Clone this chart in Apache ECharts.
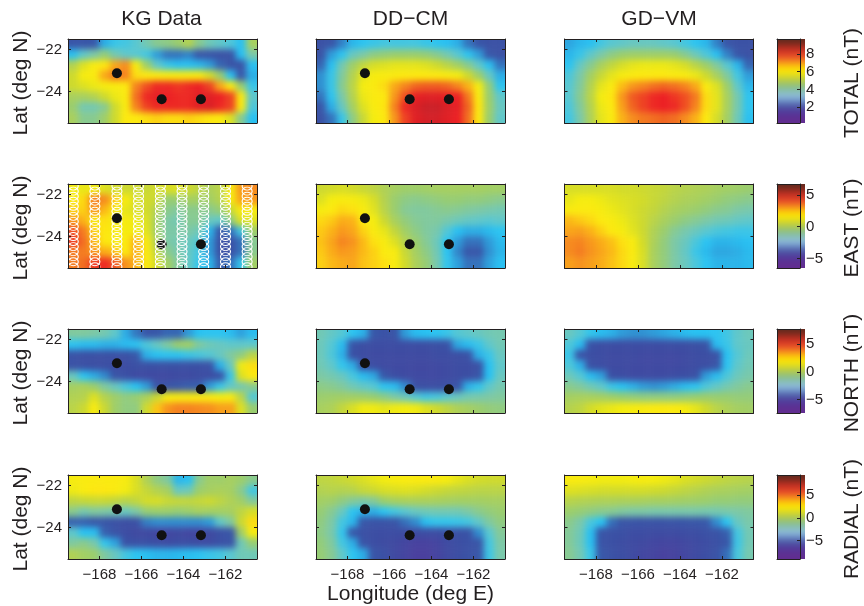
<!DOCTYPE html>
<html><head><meta charset="utf-8"><style>html,body{margin:0;background:#fff}#c{width:864px;height:606px}</style>
<script src="https://cdn.jsdelivr.net/npm/echarts@6/dist/echarts.min.js"></script></head><body><div id="c"></div>
<script>
const lonCells=["-169.25","-168.75","-168.25","-167.75","-167.25","-166.75","-166.25","-165.75","-165.25","-164.75","-164.25","-163.75","-163.25","-162.75","-162.25","-161.75","-161.25","-160.75"];
const latCells=["-21.75","-22.25","-22.75","-23.25","-23.75","-24.25","-24.75","-25.25"];
const lonTicks=[-168,-166,-164,-162];
const latTicks=[-24,-22];
const columnTitles=["KG Data","DD\u2212CM","GD\u2212VM"];
const rowNames=["TOTAL (nT)","EAST (nT)","NORTH (nT)","RADIAL (nT)"];
const barRanges=[[0.2,9.7],[-6.5,6.7],[-7.4,7.75],[-9,9.4]];
const barTicks=[[2,4,6,8],[-5,0,5],[-5,0,5],[-5,0,5]];
const siteLons=[-167.17,-165.04,-163.17];
const siteLats=[-23.13,-24.37,-24.37];
const trackLons=[-169.25,-168.22,-167.17,-166.14,-165.1,-164.07,-163.04,-162,-160.97];
const trackLats=[-21.6,-21.84,-22.08,-22.32,-22.56,-22.8,-23.04,-23.28,-23.52,-23.76,-24,-24.24,-24.48,-24.72,-24.96,-25.2,-25.44];

const totalKG=[
[2.0,2.0,2.1,2.8,3.2,3.3,3.5,3.9,4.2,4.3,4.5,5.0,4.2,3.8,3.6,3.4,3.0,4.8],
[3.0,3.6,4.0,4.4,3.9,3.6,3.5,3.3,2.6,2.3,2.3,2.4,2.0,1.9,1.8,1.9,3.0,4.0],
[5.0,5.6,6.1,6.4,7.0,7.3,6.0,4.6,3.6,3.2,3.0,3.0,2.9,2.6,2.2,1.9,1.9,3.0],
[5.4,6.0,6.2,7.0,7.5,7.4,6.5,6.3,6.2,6.1,6.1,6.1,6.1,5.5,4.5,3.0,2.0,2.8],
[5.4,5.6,5.8,6.0,6.1,6.3,7.4,7.9,8.2,8.2,8.1,8.2,8.3,8.0,7.0,6.2,4.5,3.2],
[4.8,4.8,5.0,5.4,5.8,6.2,7.6,8.2,8.4,8.3,8.2,8.2,8.5,8.5,8.3,8.0,6.2,3.6],
[4.5,3.9,3.9,4.2,5.4,6.1,7.4,8.0,8.2,8.2,8.2,8.2,8.5,8.6,8.2,8.0,6.2,3.4],
[4.8,4.2,4.2,4.6,5.4,6.3,6.3,6.5,6.6,6.5,6.5,6.6,6.5,6.4,6.2,5.6,4.2,3.0]];
const totalDD=[
[1.8,2.0,2.4,2.9,3.1,3.2,3.3,3.3,3.3,3.3,3.2,3.1,3.0,2.8,2.3,2.0,1.8,1.8],
[1.9,2.6,3.1,3.7,4.0,4.3,4.4,4.5,4.5,4.5,4.4,4.2,3.9,3.5,3.1,2.6,2.0,1.8],
[2.2,3.0,3.9,4.6,5.2,5.5,5.6,5.7,5.7,5.7,5.6,5.4,5.1,4.7,4.2,3.6,3.0,2.3],
[2.5,3.2,4.1,5.0,5.7,6.0,6.1,6.2,6.3,6.3,6.3,6.3,6.1,5.9,5.4,4.6,3.7,2.8],
[2.5,3.2,4.2,5.1,5.9,6.2,6.5,7.0,7.4,7.7,7.8,7.8,7.7,7.4,6.9,5.9,4.4,3.1],
[2.3,3.1,4.0,5.0,5.8,6.2,6.3,7.2,7.9,8.4,8.5,8.5,8.4,8.3,7.5,6.2,4.5,3.6],
[2.0,2.8,3.7,4.7,5.6,6.1,6.4,7.4,8.2,8.6,8.8,8.8,8.6,8.4,7.7,6.4,4.6,3.7],
[1.8,2.3,3.2,4.3,5.3,5.9,6.3,7.2,8.0,8.5,8.7,8.7,8.5,8.3,7.6,6.3,4.5,3.6]];
const totalGD=[
[2.7,2.9,3.0,3.3,3.5,3.6,3.7,3.7,3.7,3.6,3.5,3.3,3.1,2.9,2.4,2.0,1.8,1.8],
[2.9,3.2,3.6,4.0,4.3,4.5,4.6,4.6,4.6,4.6,4.5,4.2,3.8,3.4,3.0,2.4,2.0,1.8],
[3.1,3.7,4.2,4.8,5.2,5.5,5.7,5.8,5.8,5.8,5.7,5.5,5.1,4.6,4.1,3.5,2.9,2.2],
[3.4,4.0,4.7,5.3,5.7,6.0,6.2,6.3,6.3,6.3,6.2,6.1,5.8,5.4,4.8,4.1,3.3,2.6],
[3.5,4.1,5.0,5.7,6.2,6.8,7.2,7.4,7.6,7.7,7.6,7.4,7.0,6.2,5.6,4.6,3.6,2.9],
[3.5,4.2,5.1,5.9,6.4,7.2,7.8,8.0,8.2,8.3,8.1,7.9,7.5,6.5,5.7,4.8,3.9,3.1],
[3.4,4.1,5.0,5.8,6.3,7.1,7.7,8.0,8.2,8.3,8.2,7.9,7.4,6.5,5.7,4.8,3.9,3.1],
[3.3,4.0,4.9,5.7,6.2,6.9,7.3,7.5,7.6,7.7,7.6,7.3,6.9,6.3,5.5,4.7,3.8,3.0]];
const eastKG=[
[1.4,1.2,1.4,1.0,0.8,0.7,0.7,0.6,0.8,0.9,1.0,0.7,0.4,0.0,0.3,1.6,3.2,3.4],
[1.9,2.3,3.6,3.4,2.4,1.6,0.9,0.8,0.6,-0.6,-0.5,-0.2,-0.3,-0.3,0.2,1.6,3.0,3.2],
[2.4,2.4,3.3,2.7,1.8,1.2,0.9,0.8,0.1,-0.9,-1.1,-0.9,-0.9,-0.9,-0.6,0.6,1.8,1.6],
[3.2,2.8,1.8,2.2,1.6,1.6,1.3,1.0,-0.3,-1.2,-1.4,-1.0,-1.0,-1.6,-1.8,-0.8,1.0,1.0],
[4.2,3.6,2.4,2.1,1.7,1.6,1.4,1.1,-0.4,-1.2,-1.2,-1.2,-1.5,-2.8,-4.0,-3.6,-2.2,-0.4],
[4.4,3.8,2.7,2.1,1.7,1.9,2.8,1.8,0.0,-1.2,-1.4,-1.6,-2.0,-3.2,-4.3,-4.3,-3.6,-1.0],
[3.6,3.6,3.2,2.9,2.6,2.0,2.9,1.9,0.4,-0.9,-1.3,-1.7,-2.2,-3.2,-4.3,-4.3,-3.6,-0.9],
[3.6,3.8,4.4,4.6,4.1,3.3,2.8,1.9,0.8,-0.3,-1.1,-1.7,-2.4,-2.8,-3.8,-3.6,-2.4,-0.3]];
const eastDD=[
[0.7,0.8,0.9,0.8,0.6,0.4,0.1,-0.2,-0.4,-0.4,-0.3,-0.2,-0.2,-0.2,-0.2,-0.2,-0.3,-0.3],
[1.0,1.5,1.7,1.6,1.3,0.9,0.2,-0.5,-0.8,-0.9,-0.8,-0.7,-0.6,-0.6,-0.7,-0.7,-0.8,-0.9],
[1.6,2.0,2.3,2.2,1.7,1.1,0.3,-0.5,-1.0,-1.1,-1.1,-1.0,-0.9,-1.0,-1.1,-1.2,-1.3,-1.4],
[2.3,2.5,2.9,2.8,2.0,1.5,0.7,-0.1,-0.7,-1.0,-1.1,-1.1,-1.3,-1.5,-1.7,-1.8,-1.9,-1.8],
[2.5,2.8,3.2,3.0,2.4,1.8,1.2,0.5,-0.3,-0.8,-1.1,-1.3,-2.0,-2.6,-2.9,-2.9,-2.7,-2.5],
[2.6,3.0,3.5,3.3,2.7,2.2,1.7,1.0,0.2,-0.5,-1.0,-1.5,-2.5,-3.2,-3.6,-3.6,-3.2,-2.7],
[2.5,2.9,3.2,3.1,2.7,2.4,1.9,1.7,0.6,-0.2,-0.8,-1.4,-2.5,-3.4,-3.9,-3.9,-3.3,-2.8],
[2.4,2.7,2.9,3.0,2.6,2.4,2.2,1.7,0.8,0.0,-0.6,-1.3,-2.4,-3.1,-3.6,-3.6,-3.1,-2.6]];
const eastGD=[
[0.9,0.9,0.9,0.9,0.9,0.8,0.8,0.7,0.6,0.5,0.3,0.2,0.1,0.0,-0.2,-0.3,-0.4,-0.5],
[1.2,1.5,1.5,1.3,1.1,1.0,0.9,0.8,0.6,0.4,0.2,0.0,-0.1,-0.3,-0.5,-0.7,-0.8,-0.9],
[1.8,1.9,1.9,1.6,1.3,1.1,0.9,0.7,0.5,0.2,-0.1,-0.3,-0.5,-0.7,-0.9,-1.0,-1.2,-1.3],
[2.7,2.5,2.3,2.0,1.7,1.3,1.0,0.7,0.3,-0.1,-0.5,-0.8,-1.0,-1.2,-1.4,-1.5,-1.7,-1.8],
[3.0,3.1,2.8,2.4,2.0,1.6,1.1,0.7,0.1,-0.5,-1.0,-1.3,-1.6,-1.9,-2.1,-2.2,-2.3,-2.3],
[3.4,3.5,3.2,2.9,2.6,2.2,1.7,0.8,0.0,-0.7,-1.2,-1.6,-2.1,-2.5,-2.8,-2.8,-2.7,-2.6],
[3.4,3.6,3.3,3.0,2.7,2.3,1.8,0.9,-0.1,-0.7,-1.2,-1.7,-2.3,-2.7,-3.0,-3.0,-2.9,-2.7],
[3.1,3.3,3.1,2.9,2.6,2.3,1.7,0.9,-0.1,-0.7,-1.2,-1.6,-2.1,-2.5,-2.8,-2.8,-2.8,-2.7]];
const northKG=[
[-1.2,-1.2,-1.3,-1.5,-2.0,-3.3,-4.0,-4.5,-4.4,-4.2,-4.2,-3.6,-2.9,-2.8,-2.8,-3.0,-3.5,-3.0],
[-2.8,-3.0,-3.0,-3.2,-3.2,-3.0,-2.8,-2.3,-1.8,-1.2,-0.5,-0.3,-1.2,-1.6,-1.8,-2.0,-2.0,-2.0],
[-4.8,-5.0,-5.0,-5.0,-5.0,-5.0,-4.4,-3.2,-2.9,-2.8,-2.8,-2.6,-2.4,-2.2,-1.8,-1.2,-0.8,0.4],
[-4.8,-5.0,-5.1,-5.1,-5.2,-5.2,-5.0,-5.0,-5.0,-5.0,-5.0,-5.0,-5.0,-4.8,-3.2,-1.8,1.6,2.6],
[-1.8,-2.8,-3.3,-3.8,-4.6,-5.0,-5.3,-5.4,-5.4,-5.4,-5.3,-5.3,-5.2,-5.2,-4.8,-2.6,1.2,2.4],
[-0.2,0.0,-0.5,-1.2,-1.8,-2.4,-2.9,-3.6,-4.7,-4.6,-4.4,-4.3,-4.3,-3.6,-2.6,-1.9,-1.5,-1.0],
[0.2,0.3,1.2,0.3,-0.4,-0.8,-0.6,0.0,0.8,1.8,2.0,2.0,2.1,2.1,1.8,2.0,0.4,-2.2],
[0.4,0.8,2.0,0.8,-0.4,-0.8,-0.8,0.9,3.0,3.8,4.1,4.1,4.0,3.9,3.6,3.6,1.2,-0.6]];
const northDD=[
[-1.6,-1.9,-2.2,-2.8,-3.2,-4.4,-4.8,-4.6,-3.6,-3.0,-2.9,-2.8,-2.6,-2.2,-2.0,-1.8,-1.6,-1.5],
[-1.7,-2.2,-3.0,-4.6,-5.1,-5.2,-5.2,-5.2,-5.2,-5.2,-5.1,-5.0,-4.8,-3.4,-3.0,-2.6,-2.0,-1.6],
[-1.7,-2.3,-3.2,-5.0,-5.2,-5.3,-5.3,-5.3,-5.3,-5.3,-5.3,-5.2,-5.2,-5.1,-4.8,-3.2,-2.6,-1.8],
[-1.6,-2.0,-2.7,-3.3,-5.0,-5.2,-5.3,-5.4,-5.4,-5.5,-5.5,-5.4,-5.3,-5.2,-5.2,-4.9,-2.9,-2.0],
[-1.3,-1.5,-1.8,-2.4,-3.0,-3.4,-4.4,-5.1,-5.3,-5.4,-5.4,-5.4,-5.3,-5.2,-5.1,-4.6,-2.9,-1.8],
[-0.9,-1.0,-1.2,-1.6,-1.9,-2.2,-2.8,-3.0,-3.8,-5.0,-5.1,-5.1,-5.0,-4.6,-3.2,-2.7,-2.0,-1.5],
[-0.5,-0.4,-0.3,-0.3,-0.4,-0.6,-0.9,-1.3,-1.7,-2.2,-2.5,-2.4,-2.1,-1.8,-1.5,-1.4,-1.3,-1.2],
[-0.1,0.1,0.6,1.1,1.6,1.6,1.4,1.6,1.7,1.6,1.2,0.9,0.5,0.1,-0.2,-0.5,-0.7,-0.8]];
const northGD=[
[-1.8,-2.2,-2.7,-3.0,-3.2,-3.6,-3.7,-3.7,-3.6,-3.4,-3.2,-3.0,-2.9,-2.9,-2.8,-2.5,-2.0,-1.7],
[-2.3,-3.0,-4.8,-5.1,-5.2,-5.2,-5.2,-5.2,-5.2,-5.2,-5.1,-5.1,-5.0,-4.7,-3.0,-2.6,-2.0,-1.8],
[-2.6,-4.8,-5.1,-5.2,-5.3,-5.3,-5.3,-5.4,-5.4,-5.4,-5.4,-5.3,-5.2,-5.1,-4.9,-2.9,-2.2,-1.7],
[-2.3,-3.2,-5.0,-5.2,-5.3,-5.3,-5.4,-5.4,-5.4,-5.4,-5.4,-5.3,-5.2,-5.1,-4.6,-2.8,-2.0,-1.6],
[-1.7,-2.2,-3.0,-3.5,-5.0,-5.2,-5.3,-5.3,-5.3,-5.3,-5.2,-5.1,-4.9,-3.6,-3.0,-2.3,-1.7,-1.4],
[-1.0,-1.2,-1.6,-2.0,-2.6,-2.9,-3.2,-3.6,-3.7,-3.6,-3.3,-3.0,-2.8,-2.3,-1.9,-1.5,-1.2,-1.0],
[-0.2,-0.1,-0.1,-0.2,-0.4,-0.6,-0.7,-0.8,-0.8,-0.8,-0.8,-0.7,-0.6,-0.5,-0.6,-0.6,-0.7,-0.7],
[0.3,0.5,1.0,1.3,1.5,1.7,1.9,2.1,2.3,2.4,2.3,1.9,1.4,0.9,0.4,0.1,-0.2,-0.3]];
const radialKG=[
[2.2,2.5,2.7,2.7,2.7,2.2,1.4,0.2,-1.0,-1.5,-3.8,-3.6,-1.2,-0.4,-0.5,-0.2,-0.6,-1.2],
[1.9,2.5,3.0,3.0,2.7,2.0,1.4,0.8,0.3,-0.2,-2.2,-2.0,-0.6,-0.2,0.0,-0.2,-1.2,-3.0],
[0.6,0.8,0.9,0.9,0.7,0.4,0.7,1.2,1.3,0.9,0.8,0.7,0.8,1.0,0.6,0.2,-0.4,-1.4],
[-1.2,-1.8,-1.5,-1.6,-1.8,-2.2,-1.6,-0.8,-0.6,-0.6,-0.8,-0.6,-0.2,-0.3,-0.3,-0.2,0.6,1.3],
[-5.2,-5.2,-5.4,-5.5,-6.0,-6.2,-6.0,-4.8,-4.6,-4.6,-4.6,-4.6,-4.6,-4.4,-2.4,-1.5,1.0,3.2],
[-2.5,-3.5,-3.6,-5.2,-5.8,-6.3,-6.6,-6.6,-6.8,-6.8,-6.6,-6.8,-6.8,-6.6,-6.0,-5.6,-0.4,2.2],
[-1.5,-1.2,-1.7,-3.3,-4.2,-5.8,-6.0,-6.1,-6.2,-6.4,-6.2,-6.2,-6.4,-6.4,-6.0,-5.8,-2.0,-0.8],
[0.2,-0.3,-0.6,-1.5,-2.2,-3.0,-3.4,-3.6,-3.8,-3.8,-3.7,-3.6,-3.4,-3.2,-3.0,-2.6,-2.0,-2.0]];
const radialDD=[
[0.6,0.7,0.9,1.1,1.4,1.7,2.0,2.3,2.5,2.7,2.8,2.6,2.2,1.7,1.4,1.2,1.1,1.1],
[0.3,0.4,0.3,0.4,0.8,1.0,1.3,1.4,1.5,1.4,1.2,1.0,0.8,0.7,0.6,0.5,0.5,0.5],
[-0.3,-0.5,-1.0,-1.4,-1.6,-1.4,-0.6,-0.2,0.0,0.0,0.0,-0.1,-0.2,-0.3,-0.3,-0.3,-0.2,-0.2],
[-0.8,-1.3,-2.2,-3.4,-3.9,-4.0,-3.4,-3.0,-2.6,-2.2,-2.0,-1.9,-1.9,-1.9,-1.6,-1.2,-0.9,-0.7],
[-1.0,-1.6,-3.0,-3.8,-5.4,-5.8,-5.8,-5.6,-5.0,-4.6,-3.6,-3.3,-3.3,-3.2,-3.0,-2.4,-1.5,-1.0],
[-1.1,-1.7,-3.3,-5.4,-6.0,-6.2,-6.3,-6.3,-6.4,-6.4,-6.3,-6.3,-6.1,-6.0,-5.8,-4.6,-2.6,-1.4],
[-0.9,-1.5,-3.0,-4.0,-5.8,-6.2,-6.4,-6.6,-6.9,-7.2,-7.2,-7.0,-6.5,-6.2,-6.0,-5.6,-3.0,-1.6],
[-0.8,-1.3,-2.4,-3.4,-4.0,-5.6,-6.1,-6.6,-7.0,-7.4,-7.4,-7.1,-6.6,-6.2,-5.9,-5.5,-3.1,-1.7]];
const radialGD=[
[2.6,2.4,2.2,2.0,2.0,2.0,2.1,2.2,2.1,1.9,1.7,1.4,1.2,1.0,0.8,0.6,0.5,0.4],
[1.5,1.4,1.3,1.2,1.2,1.2,1.2,1.2,1.1,1.0,0.8,0.6,0.4,0.2,0.0,-0.1,-0.2,-0.3],
[0.4,0.3,0.2,0.1,0.1,0.0,0.0,-0.1,-0.2,-0.2,-0.3,-0.4,-0.5,-0.6,-0.8,-0.8,-0.9,-0.9],
[-0.6,-0.8,-1.0,-1.2,-1.3,-1.5,-1.6,-1.6,-1.7,-1.7,-1.7,-1.7,-1.7,-1.8,-1.8,-1.7,-1.6,-1.5],
[-1.2,-1.7,-2.9,-3.5,-5.0,-5.6,-5.7,-5.8,-5.8,-5.8,-5.7,-5.6,-5.5,-5.3,-4.6,-3.4,-2.2,-1.7],
[-1.4,-2.0,-3.6,-5.6,-5.9,-6.1,-6.3,-6.3,-6.4,-6.4,-6.4,-6.3,-6.2,-6.0,-5.8,-5.2,-3.0,-1.9],
[-1.4,-2.1,-3.6,-5.8,-6.1,-6.3,-6.5,-6.6,-6.8,-6.9,-6.9,-6.7,-6.5,-6.3,-6.0,-5.4,-3.1,-1.9],
[-1.3,-1.9,-3.2,-5.4,-5.9,-6.2,-6.5,-6.8,-7.0,-7.2,-7.1,-6.8,-6.5,-6.2,-5.8,-5.0,-2.9,-1.8]];
const panels=[[totalKG,totalDD,totalGD],[eastKG,eastDD,eastGD],[northKG,northDD,northGD],[radialKG,radialDD,radialGD]];

const heatColors=['#5e2d91','#53369a','#47439f','#3c4ea3','#3858a9','#2f9bd9','#29c4f4','#5cc7cf','#7cc8a8','#99cd70','#b0d155','#d0da2c','#f4ec10','#fde910','#fbb616','#f68b1f','#ef5a22','#ed2024','#d12027','#9b1f24','#6b1c1c'];
const barColors=['#622d90','#5c3193','#55389a','#4c489f','#5266ac','#6e90c6','#8fbde0','#8bbfc0','#82bd9f','#98c272','#b4c94c','#d3d62b','#f5e60f','#fde000','#f9b016','#f3821f','#e8502a','#d93a26','#c12f22','#8f2a1e','#5e2a1e'];

const colLeft=[68,316,564.5], rowTop=[39,184,329,475];
const panelW=189, panelH=84, barLeft=777, barW=28;
const cellW=panelW/lonCells.length, cellH=panelH/latCells.length, pad=2;
const blurPx=3;
const ink='#231f20', font='"Liberation Sans"';
const minusFmt=v=>String(v).replace('-','\u2212');
const grid=[],xAxis=[],yAxis=[],series=[],visualMap=[],title=[];
const line={show:true,onZero:false,lineStyle:{color:ink,width:1}};
const tickStyle={lineStyle:{color:ink,width:1}};
const tickSet=vals=>({show:true,inside:true,length:3,customValues:vals,...tickStyle});
const labelSet=(vals,show,margin)=>({show,customValues:vals,formatter:minusFmt,color:ink,fontFamily:font,fontSize:15,margin});
const nameStyle={color:ink,fontFamily:font,fontSize:21,padding:[0,4,0,0]};
const padLon=['w2','w1',...lonCells,'e1','e2'], padLat=['n2','n1',...latCells,'s1','s2'];
const clamp=(v,n)=>Math.max(0,Math.min(n-1,v));
function addPanel(left,top,showX,showY,yName){
  const g=grid.length;
  grid.push({left,top,width:panelW,height:panelH});
  const xv=xAxis.length, yv=yAxis.length;
  const xBase={gridIndex:g,type:'value',min:-169.5,max:-160.5,z:5,splitLine:{show:false},axisLine:line};
  const yBase={gridIndex:g,type:'value',min:-25.5,max:-21.5,z:5,splitLine:{show:false},axisLine:line};
  xAxis.push({...xBase,position:'bottom',axisTick:tickSet(lonTicks),axisLabel:labelSet(lonTicks,showX,8)});
  xAxis.push({...xBase,position:'top',axisTick:tickSet(lonTicks),axisLabel:{show:false}});
  yAxis.push({...yBase,position:'left',axisTick:tickSet(latTicks),axisLabel:labelSet(latTicks,showY,6),
    name:yName||'',nameLocation:'middle',nameRotate:90,nameGap:36,nameTextStyle:nameStyle});
  yAxis.push({...yBase,position:'right',axisTick:tickSet(latTicks),axisLabel:{show:false}});
  return {xv,yv};
}
function addHeat(left,top,vals){
  const g=grid.length;
  grid.push({left:left-pad*cellW,top:top-pad*cellH,width:panelW+2*pad*cellW,height:panelH+2*pad*cellH});
  const xi=xAxis.length, yi=yAxis.length;
  xAxis.push({gridIndex:g,type:'category',data:padLon,show:false});
  yAxis.push({gridIndex:g,type:'category',data:padLat,inverse:true,show:false});
  const data=[];
  padLat.forEach((_,j)=>padLon.forEach((_,i)=>data.push([i,j,vals[clamp(j-pad,latCells.length)][clamp(i-pad,lonCells.length)]])));
  series.push({type:'heatmap',xAxisIndex:xi,yAxisIndex:yi,data,progressive:0,animation:false,silent:true,zlevel:-1});
  return series.length-1;
}
const rampIdx=[];
const barSteps=barColors.map((_,k)=>k).reverse();
const barPad=3, stepH=panelH/barSteps.length;
function addRamp(top){
  const g=grid.length;
  grid.push({left:barLeft-12,top:top-barPad*stepH,width:barW+24,height:panelH+2*barPad*stepH});
  const xi=xAxis.length, yi=yAxis.length;
  const first=barSteps[0], last=barSteps[barSteps.length-1];
  const steps=[first,first,first,...barSteps,last,last,last];
  xAxis.push({gridIndex:g,type:'category',data:['ramp'],show:false});
  yAxis.push({gridIndex:g,type:'category',data:steps.map((_,j)=>'s'+j),inverse:true,show:false});
  series.push({type:'heatmap',xAxisIndex:xi,yAxisIndex:yi,data:steps.map((s,j)=>[0,j,s]),progressive:0,animation:false,silent:true,zlevel:-1});
  rampIdx.push(series.length-1);
}
columnTitles.forEach((t,c)=>title.push({text:t,left:colLeft[c]+panelW/2-(c===0?1:0),top:9,padding:0,textAlign:'center',textStyle:{color:ink,fontFamily:font,fontSize:21,fontWeight:'normal'}}));
panels.forEach((row,r)=>{
  const heatIdx=[];
  row.forEach((vals,c)=>{
    heatIdx.push(addHeat(colLeft[c],rowTop[r],vals));
    const a=addPanel(colLeft[c],rowTop[r],r===3,c===0,c===0?'Lat (deg N)':'');
    const pts=siteLons.map((x,k)=>[x,siteLats[k]]);
    const dot=d=>({type:'scatter',xAxisIndex:a.xv,yAxisIndex:a.yv,data:d,symbolSize:10,itemStyle:{color:'#111',opacity:1},silent:true,animation:false,z:3});
    if(r===1&&c===0){
      series.push(dot([pts[1]]));
      const rings=[];
      trackLons.forEach(x=>trackLats.forEach(y=>rings.push([x,y])));
      series.push({type:'scatter',xAxisIndex:a.xv,yAxisIndex:a.yv,data:rings,symbolSize:[10,8],clip:true,
        itemStyle:{color:'rgba(0,0,0,0)',borderColor:'#fff',borderWidth:1,opacity:1},silent:true,animation:false,z:3});
      series.push(dot([pts[0],pts[2]]));
    }else if(c<2){
      series.push(dot(pts));
    }
  });
  const [lo,hi]=barRanges[r];
  visualMap.push({type:'continuous',show:false,min:lo,max:hi,seriesIndex:heatIdx,inRange:{color:heatColors},calculable:false});
  addRamp(rowTop[r]);
  const g=grid.length;
  grid.push({left:barLeft,top:rowTop[r],width:barW,height:panelH});
  const bx={gridIndex:g,type:'value',min:0,max:1,z:5,axisLine:line,axisTick:{show:false},axisLabel:{show:false},splitLine:{show:false}};
  xAxis.push({...bx,position:'bottom'},{...bx,position:'top'});
  const by={gridIndex:g,type:'value',min:lo,max:hi,z:5,splitLine:{show:false},axisLine:line};
  yAxis.push({...by,position:'right',axisTick:tickSet(barTicks[r]),axisLabel:labelSet(barTicks[r],true,6),
    name:rowNames[r],nameLocation:'middle',nameRotate:90,nameGap:42,nameTextStyle:nameStyle});
  yAxis.push({...by,position:'left',axisTick:{show:false},axisLabel:{show:false}});
});
visualMap.push({type:'continuous',show:false,min:0,max:barColors.length-1,seriesIndex:rampIdx,inRange:{color:barColors},calculable:false});
title.push({text:'Longitude (deg E)',left:colLeft[1]+panelW/2,top:584,padding:0,textAlign:'center',textStyle:{color:ink,fontFamily:font,fontSize:21,fontWeight:'normal'}});
const chart=echarts.init(document.getElementById('c'),null,{renderer:'canvas'});
chart.setOption({animation:false,title,grid,xAxis,yAxis,visualMap,series,tooltip:{show:false}});
// soften the heat layer (its own zlevel canvas) and trim it to the panel and colour-bar frames
const heatLayer=document.querySelector('canvas[data-zr-dom-id="zr_-1"]');
if(heatLayer){
  const d=[];
  rowTop.forEach(t=>{
    colLeft.forEach(l=>d.push(`M${l} ${t}h${panelW}v${panelH}h${-panelW}z`));
    d.push(`M${barLeft} ${t}h${barW}v${panelH}h${-barW}z`);
  });
  heatLayer.style.filter=`blur(${blurPx}px)`;
  heatLayer.style.clipPath=`path('${d.join('')}')`;
}
</script></body></html>
